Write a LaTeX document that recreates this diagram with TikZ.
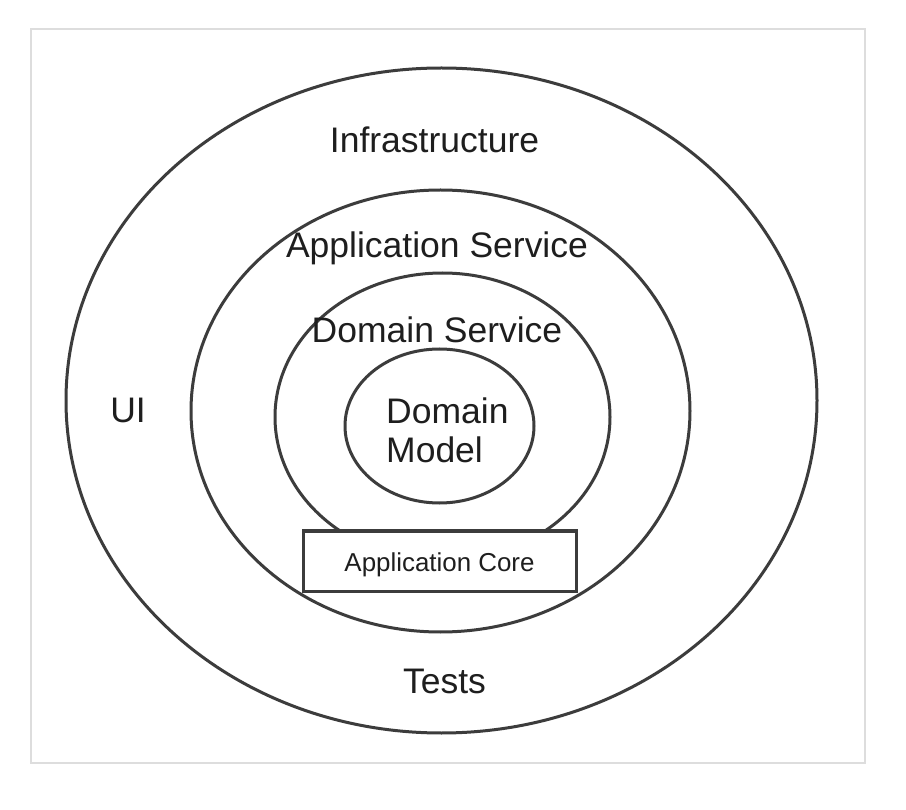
\documentclass[tikz,border=0pt]{standalone}
\usepackage{fontspec}
\setmainfont{Liberation Sans}
\usetikzlibrary{shapes.geometric}
\definecolor{ringcol}{HTML}{3C3C3C}
\definecolor{framecol}{HTML}{DDDDDD}
\definecolor{txtcol}{HTML}{1E1E1E}
\begin{document}
\begin{tikzpicture}[x=1pt,y=-1pt,
  ring/.style={draw=ringcol, line width=3pt, ellipse, inner sep=0pt, minimum width=#1},
  bigtext/.style={font=\fontsize{35.5}{40}\selectfont, text=txtcol, inner sep=0pt, anchor=base},
  corebox/.style={draw=ringcol, line width=3pt, fill=white, minimum width=273pt, minimum height=60pt,
    inner sep=0pt, text height=21.4pt, text depth=0pt, font=\fontsize{25.9}{30}\selectfont, text=txtcol}]
\useasboundingbox (0,0) rectangle (906,810);
\fill[white] (0,0) rectangle (906,810);
\draw[framecol, line width=1.5pt] (31,29) rectangle (865,763);
\node[ring=751pt, minimum height=665pt] (infra) at (441.5,400.5) {};
\node[ring=499pt, minimum height=442pt] (appsvc) at (440.5,411) {};
\node[ring=335pt, minimum height=288pt] (domsvc) at (442.5,417) {};
\node[ring=189pt, minimum height=154pt] (dommodel) at (439.5,426) {};
\node[corebox] (core) at (439.5,561) {Application Core};
\node[bigtext] (tinfra) at (434.5,152.5) {Infrastructure};
\node[bigtext] (tappsvc) at (437,258) {Application Service};
\node[bigtext] (tdomsvc) at (437,343) {Domain Service};
\node[bigtext, anchor=base west] (tdm1) at (386,424) {Domain};
\node[bigtext, anchor=base west] (tdm2) at (386,463) {Model};
\node[bigtext] (tui) at (128,423) {UI};
\node[bigtext] (ttests) at (444.5,693) {Tests};
\end{tikzpicture}
\end{document}
